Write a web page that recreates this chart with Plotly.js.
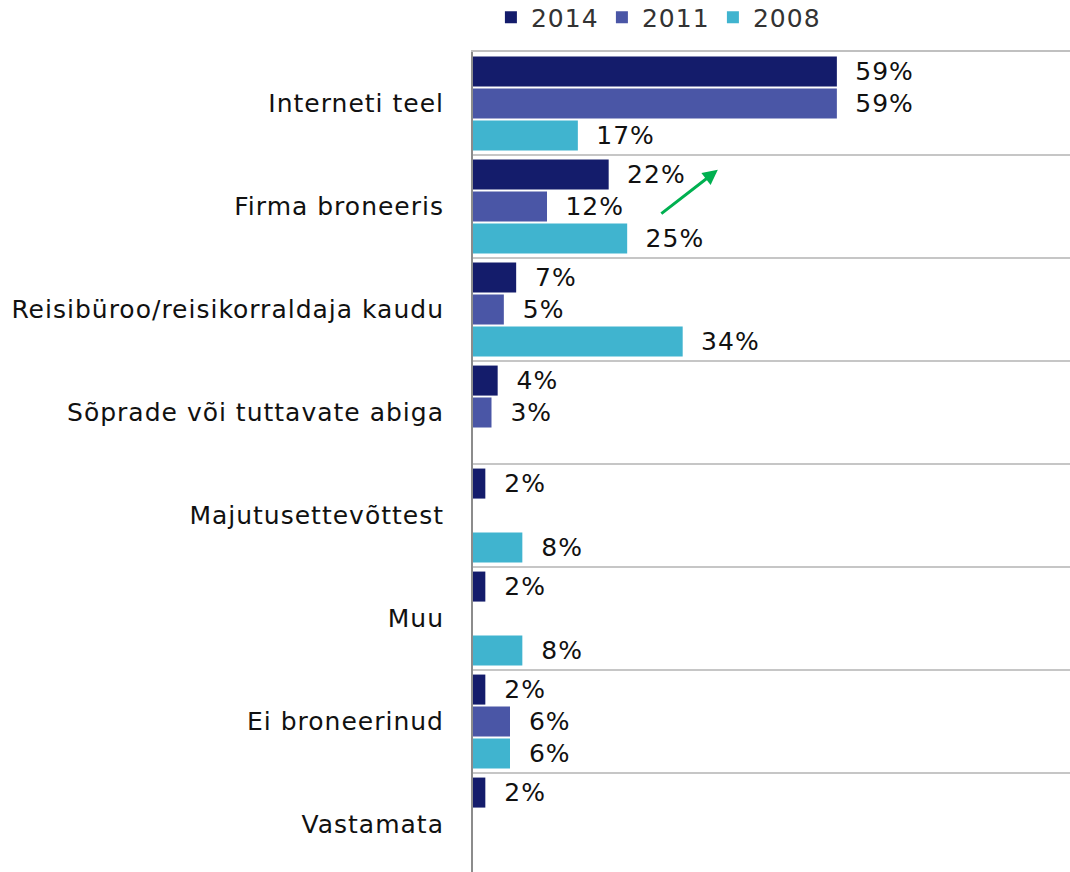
<!DOCTYPE html>
<html>
<head>
<meta charset="utf-8">
<script src="https://cdn.plot.ly/plotly-3.0.1.min.js"></script>
<style>
html,body{margin:0;padding:0;overflow:hidden;background:#fff}
#chart text{letter-spacing:1px}
</style>
</head>
<body>
<div id="chart" style="width:1070px;height:880px"></div>
<script>
const categories = ["Interneti teel", "Firma broneeris", "Reisibüroo/reisikorraldaja kaudu", "Sõprade või tuttavate abiga", "Majutusettevõttest", "Muu", "Ei broneerinud", "Vastamata"];
const seriesNames = ["2014", "2011", "2008"];
const values2014 = [59, 22, 7, 4, 2, 2, 2, 2];
const values2011 = [59, 12, 5, 3, null, null, 6, null];
const values2008 = [17, 25, 34, null, 8, 8, 6, null];
const colors = ["#141C6B", "#4A56A6", "#40B4CF"];

const allValues = [values2014, values2011, values2008];
const sp = "\u00a0\u00a0";
const traces = allValues.map((vals, i) => ({
  type: "bar",
  orientation: "h",
  name: seriesNames[i],
  y: categories,
  x: vals,
  marker: {color: colors[i]},
  text: vals.map(v => v == null ? "" : sp + v + "%"),
  textposition: "outside",
  cliponaxis: false,
  textfont: {family: "DejaVu Sans", size: 25, color: "#111"},
  hoverinfo: "none"
}));

const layout = {
  width: 1070,
  height: 880,
  margin: {l: 473, r: 0, t: 52, b: 4, autoexpand: false},
  barmode: "group",
  bargap: 0.07,
  bargroupgap: 0.06,
  showlegend: true,
  legend: {orientation: "h", x: 0.03, xanchor: "left", y: 1.042, yref: "paper", yanchor: "middle",
           font: {family: "DejaVu Sans", size: 25, color: "#333"}, entrywidth: 66, entrywidthmode: "pixels",
           traceorder: "normal"},
  xaxis: {range: [0, 96.8], showgrid: false, zeroline: false, showticklabels: false, ticks: "",
          showline: true, mirror: true, linecolor: "#c0c0c0", linewidth: 2, side: "top"},
  yaxis: {autorange: "reversed", type: "category", tickson: "boundaries", ticks: "",
          showgrid: true, gridcolor: "#c6c6c6", gridwidth: 2,
          showline: true, linecolor: "#8c8c8c", linewidth: 2,
          ticklabelstandoff: 22,
          tickfont: {family: "DejaVu Sans", size: 25, color: "#111"}},
  annotations: [{
    x: 39.7, y: 0.857, xref: "x", yref: "paper",
    ax: -58, ay: 45, axref: "pixel", ayref: "pixel",
    showarrow: true, arrowhead: 2, arrowsize: 1, arrowwidth: 3, arrowcolor: "#00B050", text: ""
  }],
  paper_bgcolor: "#fff",
  plot_bgcolor: "#fff"
};

Plotly.newPlot("chart", traces, layout, {displayModeBar: false, staticPlot: true});
</script>
</body>
</html>
